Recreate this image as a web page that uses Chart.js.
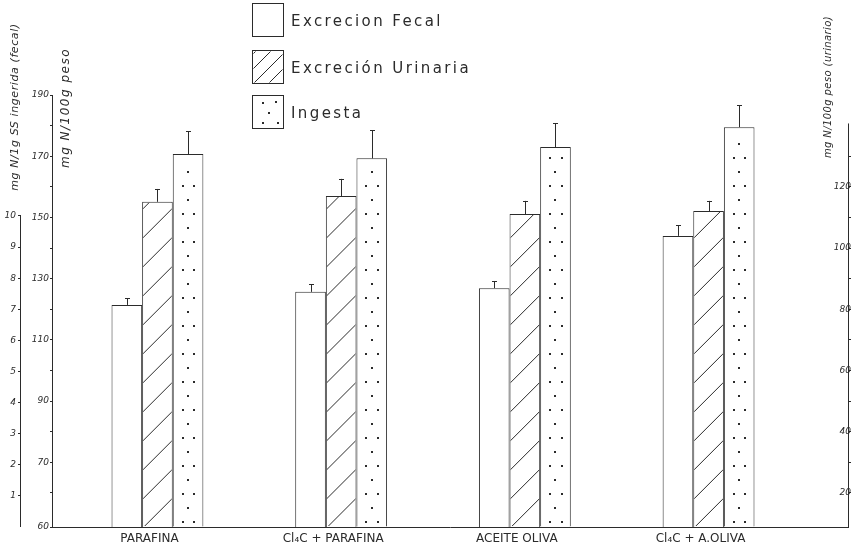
<!DOCTYPE html>
<html>
<head>
<meta charset="utf-8">
<script src="https://cdn.jsdelivr.net/npm/chart.js@4.4.0/dist/chart.umd.min.js"></script>
<style>
  html, body { margin: 0; padding: 0; background: #fff; }
  #contenedor { width: 854px; height: 549px; }
</style>
</head>
<body>
<div id="contenedor"><canvas id="grafico"></canvas></div>
<script>
// Categorías y posición de cada grupo en el eje x
const categorias = ['PARAFINA', 'Cl₄C + PARAFINA', 'ACEITE OLIVA', 'Cl₄C + A.OLIVA'];
const posiciones = [1, 2, 3, 4];

// Excreción fecal: mg N / 1 g SS ingerida (eje izquierdo exterior)
const fecal = [7.14, 7.56, 7.68, 9.36];
const fecalError = [0.22, 0.25, 0.23, 0.35];

// Excreción urinaria: mg N / 100 g peso (eje derecho)
const urinaria = [115.1, 117.0, 111.1, 112.1];
const urinariaError = [4.2, 5.6, 4.3, 3.3];

// Ingesta: mg N / 100 g peso (eje izquierdo interior)
const ingesta = [170.7, 169.3, 173.0, 179.5];
const ingestaError = [7.5, 9.2, 7.8, 7.2];

// Ejes (el origen de los ejes de peso está cortado, como en el original)
const fecalMin = 0, fecalMax = 13.89;
const pesoMin = 48.85, pesoMax = 190;
const urinMin = 8.85, urinMax = 150, urinTope = 140.7;

const ticksFecal = [1, 2, 3, 4, 5, 6, 7, 8, 9, 10];
const ticksPeso = [60, 70, 80, 90, 100, 110, 120, 130, 140, 150, 160, 170, 180, 190];
const etiquetasPeso = [70, 90, 110, 130, 150, 170, 190];
const ticksUrin = [20, 30, 40, 50, 60, 70, 80, 90, 100, 110, 120, 130];
const etiquetasUrin = [20, 40, 60, 80, 100, 120];

const errores = [fecalError, urinariaError, ingestaError];
const tinta = '#2b2b2b';

function puntos(valores) {
    return posiciones.map((x, i) => ({ x: x, y: valores[i] }));
}

function textoVertical(ctx, texto, x, y, fuente, espacio) {
    ctx.save();
    ctx.translate(x, y);
    ctx.rotate(-Math.PI / 2);
    ctx.font = fuente;
    ctx.letterSpacing = espacio;
    ctx.textAlign = 'center';
    ctx.textBaseline = 'middle';
    ctx.fillStyle = tinta;
    ctx.fillText(texto, 0, 0);
    ctx.restore();
}

function rayado(ctx, izq, arriba, ancho, alto, paso) {
    ctx.save();
    ctx.beginPath();
    ctx.rect(izq + 1, arriba + 1, ancho - 2, alto - 2);
    ctx.clip();
    ctx.beginPath();
    for (let y0 = arriba + alto + ancho; y0 > arriba - ancho; y0 -= paso) {
        ctx.moveTo(izq, y0);
        ctx.lineTo(izq + ancho, y0 - ancho);
    }
    ctx.stroke();
    ctx.restore();
}

// Dibujos que Chart.js no trae: tramas, barras de error, ejes sueltos, títulos y leyenda
const dibujos = {
    id: 'dibujos',
    afterDatasetsDraw(chart) {
        const ctx = chart.ctx;
        const fondo = chart.chartArea.bottom;
        ctx.save();
        ctx.strokeStyle = tinta;
        ctx.fillStyle = tinta;
        ctx.lineWidth = 1;

        // trama rayada (urinaria)
        chart.getDatasetMeta(1).data.forEach(bar => {
            const base = Math.min(bar.base, fondo);
            rayado(ctx, bar.x - bar.width / 2, bar.y, bar.width, base - bar.y, 29);
        });

        // trama punteada (ingesta)
        chart.getDatasetMeta(2).data.forEach(bar => {
            const izq = bar.x - bar.width / 2;
            const base = Math.min(bar.base, fondo);
            let fila = 0;
            for (let y = base - 6; y > bar.y + 8; y -= 14, fila++) {
                if (fila % 2 === 0) {
                    ctx.fillRect(Math.round(izq + 9), Math.round(y), 2, 2);
                    ctx.fillRect(Math.round(izq + bar.width - 10), Math.round(y), 2, 2);
                } else {
                    ctx.fillRect(Math.round(bar.x - 1), Math.round(y), 2, 2);
                }
            }
        });

        // barras de error
        chart.data.datasets.forEach((ds, d) => {
            const escala = chart.scales[ds.yAxisID];
            chart.getDatasetMeta(d).data.forEach((bar, i) => {
                const tope = escala.getPixelForValue(ds.data[i].y + errores[d][i]);
                const x = Math.round(bar.x) + 0.5;
                ctx.beginPath();
                ctx.moveTo(x, bar.y);
                ctx.lineTo(x, tope);
                ctx.moveTo(x - 2.5, Math.round(tope) + 0.5);
                ctx.lineTo(x + 2.5, Math.round(tope) + 0.5);
                ctx.stroke();
            });
        });
        ctx.restore();
    },
    afterDraw(chart) {
        const ctx = chart.ctx;
        const sF = chart.scales.yFecal;
        const sU = chart.scales.yUrin;
        ctx.save();
        ctx.strokeStyle = tinta;
        ctx.lineWidth = 1;

        // eje fecal (solo de 0 a 10) y eje urinario
        ctx.beginPath();
        const xf = Math.round(sF.right) - 0.5;
        ctx.moveTo(xf, sF.getPixelForValue(10));
        ctx.lineTo(xf, sF.getPixelForValue(fecalMin));
        const xu = Math.round(sU.left) + 0.5;
        ctx.moveTo(xu, sU.getPixelForValue(urinTope));
        ctx.lineTo(xu, sU.getPixelForValue(urinMin));
        ctx.stroke();

        // títulos de los ejes
        textoVertical(ctx, 'mg N/1g SS ingerida (fecal)', 15, 107, 'italic 11px "DejaVu Sans"', '0.6px');
        textoVertical(ctx, 'mg N/100g peso', 66, 108, 'italic 12px "DejaVu Sans"', '1.5px');
        textoVertical(ctx, 'mg N/100g peso (urinario)', 828, 87, 'italic 10px "DejaVu Sans"', '0.4px');

        // leyenda
        const cajaX = 252.5, cajaAncho = 31, cajaAlto = 33;
        const cajasY = [3.5, 50.5, 95.5];
        chart.data.datasets.forEach((ds, d) => {
            const y = cajasY[d];
            ctx.strokeStyle = tinta;
            ctx.fillStyle = tinta;
            ctx.strokeRect(cajaX, y, cajaAncho, cajaAlto);
            if (d === 1) {
                rayado(ctx, cajaX, y, cajaAncho, cajaAlto, 15);
            } else if (d === 2) {
                [[9, 6], [22, 5], [15, 16], [9, 26], [24, 26]].forEach(p => {
                    ctx.fillRect(Math.round(cajaX + p[0]), Math.round(y + p[1]), 2, 2);
                });
            }
            ctx.font = '15px "DejaVu Sans"';
            ctx.letterSpacing = '2.4px';
            ctx.textAlign = 'left';
            ctx.textBaseline = 'middle';
            ctx.fillText(ds.label, 291, y + cajaAlto / 2 + 2);
        });
        ctx.restore();
    }
};

const fuenteTicks = { family: 'DejaVu Sans', size: 9, style: 'italic' };

new Chart(document.getElementById('grafico'), {
    type: 'bar',
    data: {
        datasets: [
            {
                label: 'Excrecion Fecal',
                data: puntos(fecal),
                yAxisID: 'yFecal',
                base: fecalMin,
                backgroundColor: '#fff',
                borderColor: tinta,
                borderWidth: 1,
                categoryPercentage: 0.5,
                barPercentage: 1
            },
            {
                label: 'Excreción Urinaria',
                data: puntos(urinaria),
                yAxisID: 'yUrin',
                base: urinMin,
                backgroundColor: '#fff',
                borderColor: tinta,
                borderWidth: 1,
                categoryPercentage: 0.5,
                barPercentage: 1
            },
            {
                label: 'Ingesta',
                data: puntos(ingesta),
                yAxisID: 'yPeso',
                base: pesoMin,
                backgroundColor: '#fff',
                borderColor: tinta,
                borderWidth: 1,
                categoryPercentage: 0.5,
                barPercentage: 1
            }
        ]
    },
    options: {
        responsive: true,
        maintainAspectRatio: false,
        animation: false,
        layout: { padding: { top: 95, left: 0, right: 0, bottom: 0 } },
        plugins: {
            legend: { display: false },
            tooltip: { enabled: false }
        },
        scales: {
            x: {
                type: 'linear',
                min: 0.426,
                max: 4.759,
                offset: false,
                grid: { display: false, drawTicks: false },
                border: { display: true, color: tinta, width: 1 },
                afterBuildTicks: scale => { scale.ticks = posiciones.map(v => ({ value: v })); },
                afterFit: scale => { scale.height = 22; },
                ticks: {
                    autoSkip: false,
                    maxRotation: 0,
                    padding: 5,
                    labelOffset: -8,
                    color: tinta,
                    font: { family: 'DejaVu Sans', size: 12 },
                    callback: v => categorias[posiciones.indexOf(v)]
                }
            },
            yFecal: {
                type: 'linear',
                position: 'left',
                weight: 2,
                min: fecalMin,
                max: fecalMax,
                border: { display: false },
                grid: { drawOnChartArea: false, drawTicks: true, tickLength: 3, color: tinta },
                afterBuildTicks: scale => { scale.ticks = ticksFecal.map(v => ({ value: v })); },
                afterFit: scale => { scale.width = 21; },
                ticks: { padding: 2, color: tinta, font: fuenteTicks, autoSkip: false }
            },
            yPeso: {
                type: 'linear',
                position: 'left',
                weight: 1,
                min: pesoMin,
                max: pesoMax,
                border: { display: true, color: tinta, width: 1 },
                grid: { drawOnChartArea: false, drawTicks: true, tickLength: 2, color: tinta },
                afterBuildTicks: scale => {
                    scale.ticks = [{ value: pesoMin }].concat(ticksPeso.map(v => ({ value: v })));
                },
                afterFit: scale => { scale.width = 31; },
                ticks: {
                    padding: 1,
                    color: tinta,
                    font: fuenteTicks,
                    autoSkip: false,
                    callback: v => v === pesoMin ? '60' : (etiquetasPeso.includes(v) ? String(v) : '')
                }
            },
            yUrin: {
                type: 'linear',
                position: 'right',
                min: urinMin,
                max: urinMax,
                border: { display: false },
                grid: { drawOnChartArea: false, drawTicks: true, tickLength: 3, color: tinta },
                afterBuildTicks: scale => { scale.ticks = ticksUrin.map(v => ({ value: v })); },
                afterFit: scale => { scale.width = 6; },
                ticks: {
                    mirror: true,
                    padding: 3,
                    color: tinta,
                    font: fuenteTicks,
                    autoSkip: false,
                    callback: v => etiquetasUrin.includes(v) ? String(v) : ''
                }
            }
        }
    },
    plugins: [dibujos]
});
</script>
</body>
</html>
